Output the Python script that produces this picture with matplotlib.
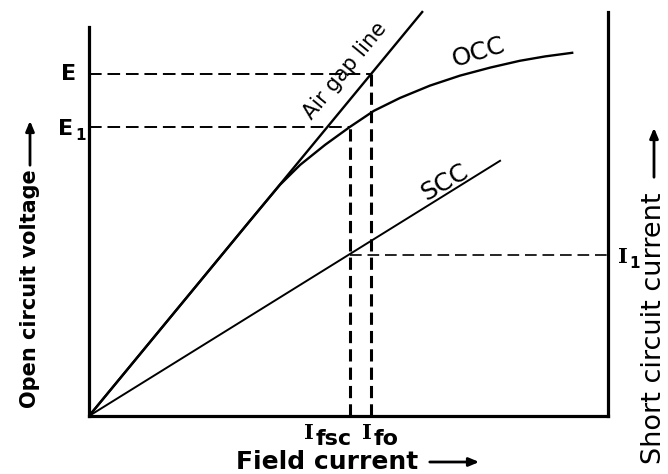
import numpy as np
import matplotlib.pyplot as plt

# field current (x) vs open circuit voltage / short circuit current (y), arbitrary units
occ_if = [0, 3.10, 3.68, 4.07, 4.55, 5.03, 5.49, 5.99, 6.57, 7.15, 7.73, 8.30, 8.79, 9.31]
occ_v = [0, 4.88, 5.78, 6.28, 6.78, 7.23, 7.63, 7.95, 8.26, 8.51, 8.71, 8.88, 8.99, 9.08]
airgap_if = [0, 6.42]
airgap_v = [0, 10.1]
scc_if = [0, 7.92]
scc_i = [0, 6.38]

E, E1, I1 = 8.55, 7.23, 4.03
I_fsc, I_fo = 5.02, 5.44

W, H = 668, 474
fig = plt.figure(figsize=(W / 100, H / 100), dpi=100)
ax = fig.add_axes([89 / W, 58 / H, 519 / W, 416 / H])
ax.set_xlim(0, 10)
ax.set_ylim(0, 10.4)

# curves
ax.plot(occ_if, occ_v, color="k", lw=1.7, solid_joinstyle="round")
ax.plot(airgap_if, airgap_v, color="k", lw=1.7)
ax.plot(scc_if, scc_i, color="k", lw=1.4)

# construction lines
hdash = dict(color="k", lw=1.4, ls=(0, (6.5, 3)))
vdash = dict(color="k", lw=2.2, ls=(0, (4, 2)))
ax.plot([0, I_fo], [E, E], **hdash)
ax.plot([0, I_fsc], [E1, E1], **hdash)
ax.plot([I_fsc, 10], [I1, I1], color="k", lw=1.2, ls=(0, (7, 3.5)))
ax.plot([I_fsc, I_fsc], [0, E1], **vdash)
ax.plot([I_fo, I_fo], [0, E], **vdash)

# axes frame
for s in ["left", "right", "bottom"]:
    ax.spines[s].set_linewidth(2.3)
ax.spines["top"].set_visible(False)
ax.spines["left"].set_bounds(0, 9.73)
ax.spines["right"].set_bounds(0, 10.1)
ax.spines["bottom"].set_bounds(0, 10)
ax.set_xticks([])
ax.set_yticks([])

bold = dict(fontfamily="DejaVu Sans", fontweight="bold", color="k")
serif = dict(fontfamily="DejaVu Serif", fontweight="bold", color="k")


def sub_label(x, y, main, sub, fmain, fsub, dy, mainstyle):
    ax.text(x, y, main, ha="right", va="baseline", fontsize=fmain,
            clip_on=False, **mainstyle)
    ax.annotate(sub, xy=(x, y), xytext=(1, -dy), textcoords="offset points",
                ha="left", va="baseline", fontsize=fsub, annotation_clip=False, **bold)


ax.text(-0.25, E, "E", ha="right", va="center", fontsize=16, clip_on=False, **bold)
sub_label(-0.3, E1 - 0.2, "E", "1", 16, 11, 4, bold)
sub_label(10.38, I1 - 0.2, "I", "1", 15, 11, 4, serif)
sub_label(I_fsc - 0.68, -0.58, "I", "fsc", 15, 16, 4, serif)
sub_label(I_fo + 0.02, -0.58, "I", "fo", 15, 16, 4, serif)

ax.text(4.93, 8.62, "Air gap line", rotation=50.5, ha="center", va="center",
        fontsize=15, fontfamily="DejaVu Sans")
ax.text(7.5, 9.08, "OCC", rotation=17, ha="center", va="center",
        fontsize=18, fontfamily="DejaVu Sans")
ax.text(6.85, 5.85, "SCC", rotation=30, ha="center", va="center",
        fontsize=18, fontfamily="DejaVu Sans")

# axis titles with arrows (figure pixel positions)
fig.text(327 / W, 1 - 462 / H, "Field current", ha="center", va="center",
         fontsize=18, **bold)
fig.text(30 / W, 1 - 289 / H, "Open circuit voltage", ha="center", va="center",
         rotation=90, fontsize=15, **bold)
fig.text(654 / W, 1 - 328 / H, "Short circuit current", ha="center", va="center",
         rotation=90, fontsize=19.5, fontfamily="DejaVu Sans")

arrow = dict(arrowstyle="-|>,head_length=0.6,head_width=0.25", color="k", lw=2)
ax.annotate("", xy=(482, H - 462), xytext=(427, H - 462), xycoords="figure pixels",
            textcoords="figure pixels", arrowprops=arrow, annotation_clip=False)
ax.annotate("", xy=(30, H - 118), xytext=(30, H - 168), xycoords="figure pixels",
            textcoords="figure pixels", arrowprops=arrow, annotation_clip=False)
ax.annotate("", xy=(654, H - 125), xytext=(654, H - 180), xycoords="figure pixels",
            textcoords="figure pixels", arrowprops=arrow, annotation_clip=False)

fig.savefig("out.png", dpi=100)
